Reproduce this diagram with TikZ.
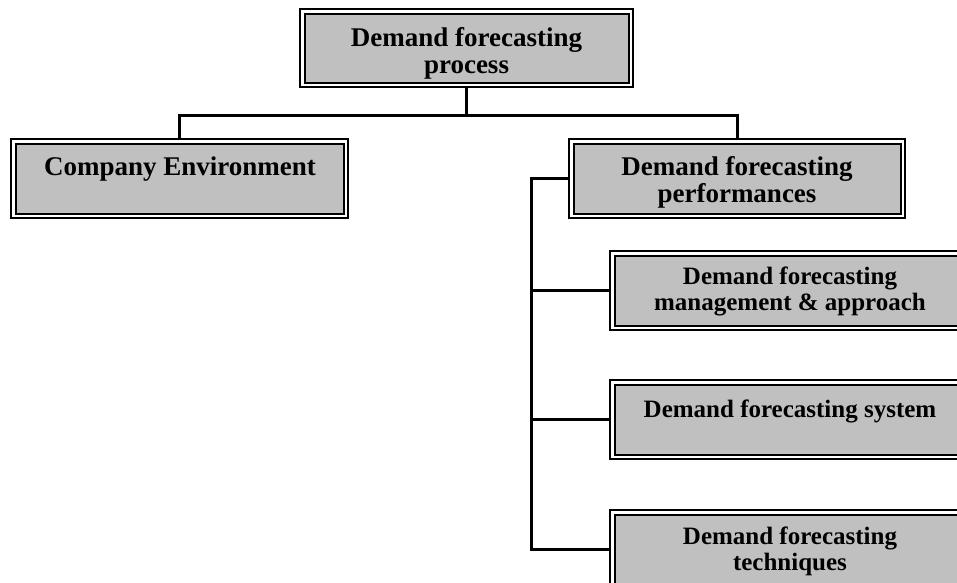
\documentclass[tikz,border=0pt]{standalone}
\usepackage{fontspec}
\setmainfont{Liberation Serif}
\begin{document}
\begin{tikzpicture}[x=1pt,y=-1pt,
  frame/.style={rectangle, draw=black, line width=1.1pt, fill=white,
    inner sep=0pt, outer sep=0pt,
    path picture={\draw[line width=2pt, fill=boxgray]
      ([shift={(4.5pt,-4.5pt)}]path picture bounding box.north west) rectangle
      ([shift={(-4.5pt,4.5pt)}]path picture bounding box.south east);}},
  big/.style={font=\fontsize{27}{27}\selectfont\bfseries, align=center, inner sep=0pt, anchor=base},
  small/.style={font=\fontsize{25}{26}\selectfont\bfseries, align=center, inner sep=0pt, anchor=base},
  link/.style={draw=black, line width=3pt},
  thin link/.style={draw=black, line width=3pt}]
\definecolor{boxgray}{HTML}{C0C0C0}
\clip (0,0) rectangle (957,582);
\fill[white] (0,0) rectangle (957,582);

% boxes
\node[frame, minimum width=333pt, minimum height=78pt] (top) at (466.5,48) {};
\node[frame, minimum width=337pt, minimum height=79pt] (company) at (179.5,178.5) {};
\node[frame, minimum width=336pt, minimum height=79pt] (perf) at (737,178.5) {};
\node[frame, minimum width=360pt, minimum height=79pt] (mgmt) at (790,290.5) {};
\node[frame, minimum width=360pt, minimum height=79pt] (system) at (790,419.5) {};
\node[frame, minimum width=360pt, minimum height=79pt] (tech) at (790,549.5) {};

% labels (base anchor sits on the last line)
\node[big] (topT) at (466.5,73) {Demand forecasting\\process};
\node[big] (companyT) at (180,175) {Company Environment};
\node[big] (perfT) at (737,202) {Demand forecasting\\performances};
\node[small] (mgmtT) at (790,310) {Demand forecasting\\management \& approach};
\node[small] (systemT) at (790,417) {Demand forecasting system};
\node[small] (techT) at (790,570) {Demand forecasting\\techniques};

% upper tree
\coordinate (bus) at (466.5,115.5);
\draw[link] (top.south) -- (bus);
\draw[link] (company.north) |- (bus) -| (perf.north);

% side spine
\coordinate (spine) at (531.5,0);
\draw[link] (perf.west) -| (spine |- tech.west) -- (tech.west);
\draw[thin link] (spine |- mgmt.west) -- (mgmt.west);
\draw[thin link] (spine |- system.west) -- (system.west);
\end{tikzpicture}
\end{document}
